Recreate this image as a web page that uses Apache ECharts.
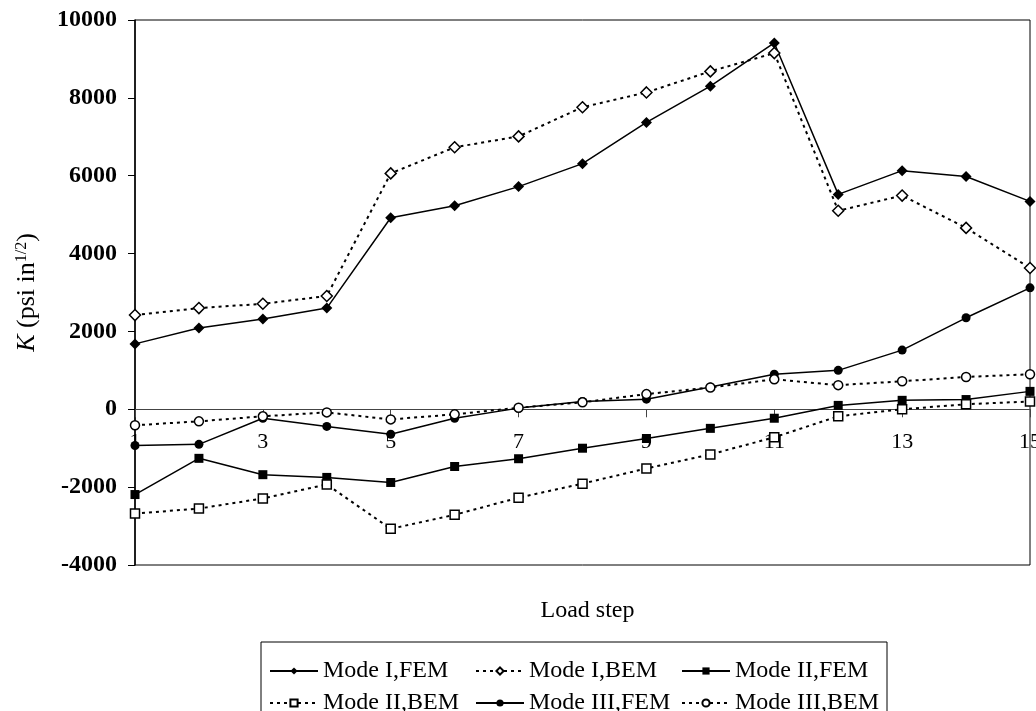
<!DOCTYPE html>
<html>
<head>
<meta charset="utf-8">
<script src="https://cdn.jsdelivr.net/npm/echarts@6/dist/echarts.min.js"></script>
<style>
  html, body { margin: 0; padding: 0; background: #fff; }
  #chart { width: 1036px; height: 711px; }
</style>
</head>
<body>
<div id="chart"></div>
<script>
// Load steps along the x axis
const steps = ['1','2','3','4','5','6','7','8','9','10','11','12','13','14','15'];

// Stress intensity factors K (psi in^1/2) per load step
const modeIFEM   = [1680, 2090, 2320, 2600, 4920, 5230, 5720, 6310, 7370, 8300, 9410, 5520, 6130, 5980, 5340];
const modeIBEM   = [2420, 2600, 2710, 2910, 6060, 6730, 7010, 7760, 8140, 8680, 9150, 5100, 5490, 4660, 3630];
const modeIIFEM  = [-2190, -1260, -1680, -1750, -1880, -1470, -1270, -1000, -750, -490, -230, 100, 230, 250, 460];
const modeIIBEM  = [-2680, -2550, -2290, -1930, -3070, -2710, -2270, -1910, -1520, -1160, -720, -180, 0, 130, 200];
const modeIIIFEM = [-930, -900, -230, -440, -640, -230, 30, 200, 260, 570, 900, 1000, 1520, 2350, 3120];
const modeIIIBEM = [-410, -310, -180, -80, -260, -130, 40, 180, 390, 560, 770, 620, 720, 830, 900];

// Y axis range and step
const yMin = -4000, yMax = 10000, yStep = 2000;

const W = 1036, H = 711;
const gridBox = { left: 135, right: 6, top: 20, bottom: 146 };
// the category axis sits on the K = 0 line
const plotH = H - gridBox.top - gridBox.bottom;
const zeroOffset = -plotH * (0 - yMin) / (yMax - yMin);

const serif = '"Liberation Serif", "Times New Roman", serif';

function lineSeries(name, data, symbol, filled, dotted) {
  return {
    name: name,
    type: 'line',
    data: data,
    symbol: symbol,
    symbolSize: symbol === 'diamond' ? 11 : 9,
    showSymbol: true,
    lineStyle: {
      color: '#000',
      width: dotted ? 2 : 1.5,
      type: dotted ? [3, 4] : 'solid'
    },
    itemStyle: {
      color: filled ? '#000' : '#fff',
      borderColor: '#000',
      borderWidth: filled ? 0 : 1.5
    },
    emphasis: { disabled: true },
    animation: false
  };
}

const chart = echarts.init(document.getElementById('chart'));
chart.setOption({
  backgroundColor: '#fff',
  animation: false,
  title: {
    text: 'Load step',
    left: (gridBox.left + (W - gridBox.right)) / 2,
    textAlign: 'center',
    top: 594,
    textStyle: { fontFamily: serif, fontSize: 24, fontWeight: 'normal', color: '#000' }
  },
  grid: {
    left: gridBox.left, right: gridBox.right, top: gridBox.top, bottom: gridBox.bottom,
    containLabel: false,
    outerBoundsMode: 'none',
    show: true, borderColor: '#000', borderWidth: 1, backgroundColor: 'transparent'
  },
  legend: {
    left: 261, top: 642,
    width: 640,
    padding: [17, 8, 6, 8],
    borderColor: '#000', borderWidth: 1,
    itemWidth: 48, itemHeight: 9, itemGap: 8,
    textStyle: {
      fontFamily: serif, fontSize: 24, color: '#000',
      width: 144, lineHeight: 22
    },
    data: ['Mode I,FEM', 'Mode I,BEM', 'Mode II,FEM', 'Mode II,BEM', 'Mode III,FEM', 'Mode III,BEM']
  },
  xAxis: {
    type: 'category',
    data: steps,
    boundaryGap: false,
    position: 'bottom',
    offset: zeroOffset,
    axisLine: { onZero: false, lineStyle: { color: '#444', width: 1 } },
    axisTick: { show: true, interval: 1, length: 8, inside: false, lineStyle: { color: '#444' } },
    axisLabel: { interval: 1, margin: 22, fontFamily: serif, fontSize: 22, color: '#000' },
    splitLine: { show: false }
  },
  yAxis: {
    type: 'value',
    min: yMin, max: yMax, interval: yStep,
    axisLine: { show: true, lineStyle: { color: '#000', width: 1.5 } },
    axisTick: { show: true, length: 7, lineStyle: { color: '#000' } },
    axisLabel: {
      margin: 18, fontFamily: serif, fontSize: 24, fontWeight: 'bold', color: '#000',
      formatter: function (v) { return String(v); }
    },
    splitLine: { show: false },
    name: '{k|K}{t| (psi in}{s|1/2}{t|)}',
    nameLocation: 'middle',
    nameRotate: 90,
    nameGap: 95,
    nameTextStyle: {
      rich: {
        k: { fontFamily: serif, fontSize: 26, fontStyle: 'italic', color: '#000' },
        t: { fontFamily: serif, fontSize: 26, color: '#000' },
        s: { fontFamily: serif, fontSize: 16, color: '#000', verticalAlign: 'top', padding: [0, 0, 10, 0] }
      }
    }
  },
  series: [
    lineSeries('Mode I,FEM', modeIFEM, 'diamond', true, false),
    lineSeries('Mode I,BEM', modeIBEM, 'diamond', false, true),
    lineSeries('Mode II,FEM', modeIIFEM, 'rect', true, false),
    lineSeries('Mode II,BEM', modeIIBEM, 'rect', false, true),
    lineSeries('Mode III,FEM', modeIIIFEM, 'circle', true, false),
    lineSeries('Mode III,BEM', modeIIIBEM, 'circle', false, true)
  ]
});
</script>
</body>
</html>
